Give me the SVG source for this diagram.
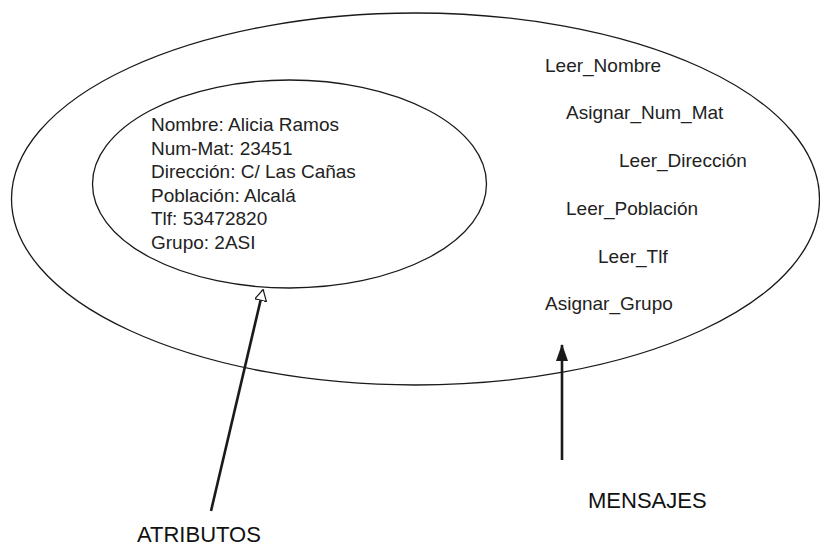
<svg xmlns="http://www.w3.org/2000/svg" width="820" height="549" viewBox="0 0 820 549">
<defs>
<style>
.el{fill:none;stroke:#1a1a1a;stroke-width:1.3}
.t{font-family:"Liberation Sans",Arial,sans-serif;font-size:19px;fill:#222}
.lbl{font-family:"Liberation Sans",Arial,sans-serif;font-size:22px;fill:#111}
.ar{stroke:#1a1a1a;stroke-width:2.6;fill:none}
</style>
<marker id="open" viewBox="0 0 12 16" refX="11" refY="6" markerWidth="12" markerHeight="16" markerUnits="userSpaceOnUse" orient="auto">
<path d="M0,0 L11,6 L0,12 Z" fill="#fff" stroke="#1a1a1a" stroke-width="1.2" transform="translate(0.5,0)"/>
</marker>
<marker id="solid" viewBox="0 0 17 12" refX="16" refY="6" markerWidth="17" markerHeight="12" markerUnits="userSpaceOnUse" orient="auto">
<path d="M0,0 L17,6 L0,12 Z" fill="#1a1a1a"/>
</marker>
</defs>
<rect width="820" height="549" fill="#fff"/>
<g id="objeto">
<ellipse class="el" cx="415.5" cy="199" rx="404" ry="186"/>
</g>
<g id="atributos">
<ellipse class="el" cx="289.5" cy="184" rx="197" ry="104"/>
<text class="t" x="151" y="131">Nombre: Alicia Ramos</text>
<text class="t" x="151" y="154.5">Num-Mat: 23451</text>
<text class="t" x="151" y="178">Dirección: C/ Las Cañas</text>
<text class="t" x="151" y="201.5">Población: Alcalá</text>
<text class="t" x="151" y="225">Tlf: 53472820</text>
<text class="t" x="151" y="248.5">Grupo: 2ASI</text>
</g>
<g id="mensajes">
<text class="t" x="545" y="72">Leer_Nombre</text>
<text class="t" x="566" y="119">Asignar_Num_Mat</text>
<text class="t" x="619" y="167">Leer_Dirección</text>
<text class="t" x="566" y="215">Leer_Población</text>
<text class="t" x="598" y="263">Leer_Tlf</text>
<text class="t" x="545" y="310">Asignar_Grupo</text>
</g>
<g id="connectors">
<line class="ar" x1="211" y1="511" x2="263" y2="290" marker-end="url(#open)"/>
<line class="ar" x1="562" y1="460" x2="562" y2="345" marker-end="url(#solid)"/>
</g>
<g id="label-atributos">
<text class="lbl" x="137" y="542">ATRIBUTOS</text>
</g>
<g id="label-mensajes">
<text class="lbl" x="588" y="508">MENSAJES</text>
</g>
</svg>
